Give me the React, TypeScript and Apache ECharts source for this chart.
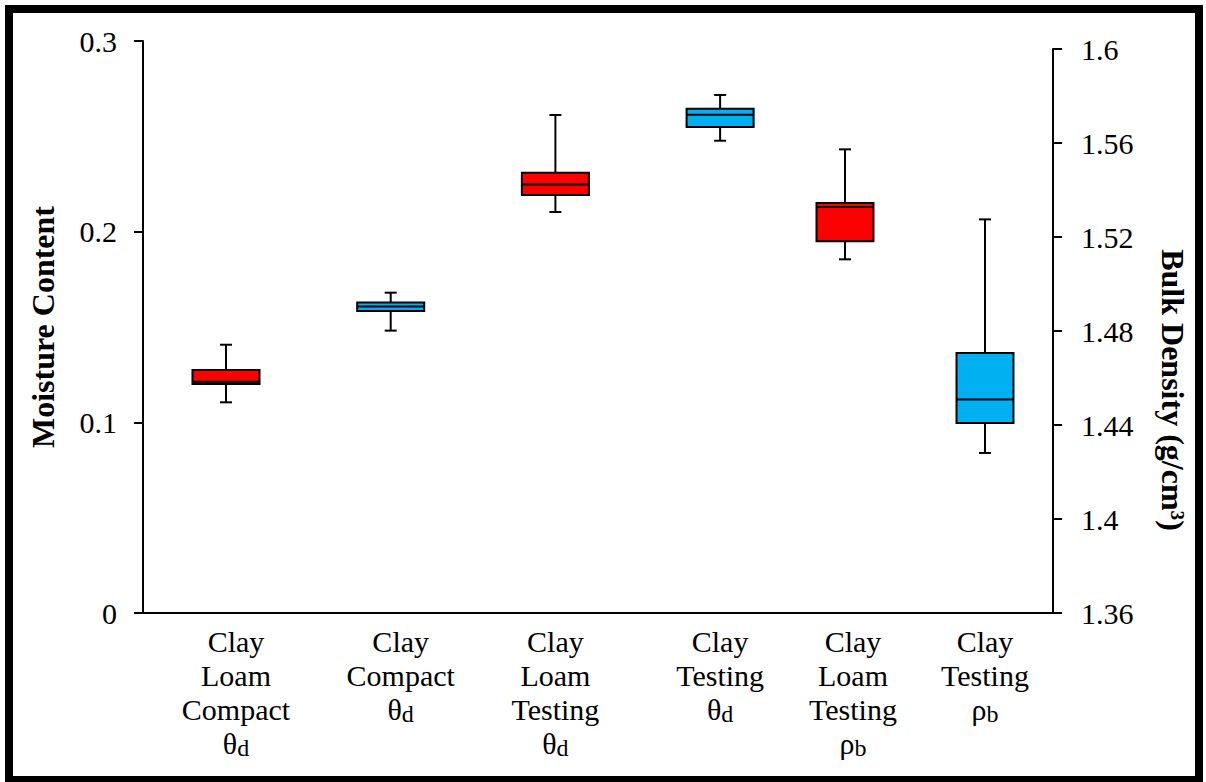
import React, { useEffect, useRef } from "react";
import * as echarts from "echarts";

// Categories ("_" marks a subscript)
const thetaCategories = [
  "Clay Loam Compact θ_d",
  "Clay Compact θ_d",
  "Clay Loam Testing θ_d",
  "Clay Testing θ_d",
];
const rhoCategories = ["Clay Loam Testing ρ_b", "Clay Testing ρ_b"];

// Moisture content (left axis) box statistics
const thetaLow = [0.1105, 0.1481, 0.2103, 0.2477];
const thetaQ1 = [0.1201, 0.1584, 0.2192, 0.2549];
const thetaMedian = [0.1213, 0.1607, 0.2248, 0.2613];
const thetaQ3 = [0.1274, 0.1629, 0.2309, 0.2645];
const thetaHigh = [0.1407, 0.168, 0.2612, 0.2717];

// Bulk density (right axis) box statistics
const rhoLow = [1.5105, 1.4281];
const rhoQ1 = [1.5182, 1.4409];
const rhoMedian = [1.5328, 1.4509];
const rhoQ3 = [1.5345, 1.4706];
const rhoHigh = [1.5573, 1.5275];

const thetaColors = ["#FF0000", "#00B0F0", "#FF0000", "#00B0F0"];
const rhoColors = ["#FF0000", "#00B0F0"];

const leftTicks = { min: 0, max: 0.3, interval: 0.1 };
const rightTicks = { min: 1.36, max: 1.6, interval: 0.04 };

const FONT = "'Liberation Serif', 'Times New Roman', serif";

// small rightward nudges (px) of each category label, as in the original layout
const thetaLabelShift = [10, 10, 0, 0];
const rhoLabelShift = [8, 0];

function makeFormatter() {
  return (v: string, idx: number) =>
    v
      .split(" ")
      .map((w) => {
        if (w.includes("_")) {
          const [a, b] = w.split("_");
          return `{p${idx}|${a}}{s|${b}}`;
        }
        return `{p${idx}|${w}}`;
      })
      .join("\n");
}

function makeRich(shifts: number[]) {
  const rich: any = {
    s: { fontFamily: FONT, fontSize: 24, lineHeight: 14, color: "#000", verticalAlign: "bottom" },
  };
  shifts.forEach((d, i) => {
    rich["p" + i] = {
      fontFamily: FONT, fontSize: 30, lineHeight: 34, color: "#000",
      padding: [0, 0, 0, 2 * d],
    };
  });
  return rich;
}

function makeRenderItem(colors: string[]) {
  return (params: any, api: any) => {
    const i = api.value(0);
    const lo = api.coord([i, api.value(1)]);
    const q1 = api.coord([i, api.value(2)]);
    const med = api.coord([i, api.value(3)]);
    const q3 = api.coord([i, api.value(4)]);
    const hi = api.coord([i, api.value(5)]);
    const band = api.size([1, 0])[0];
    const w = band * 0.407;
    const cap = 12;
    const x = lo[0];
    const ls = { stroke: "#000", lineWidth: 2 };
    return {
      type: "group",
      children: [
        { type: "line", shape: { x1: x, y1: hi[1], x2: x, y2: q3[1] }, style: ls },
        { type: "line", shape: { x1: x, y1: q1[1], x2: x, y2: lo[1] }, style: ls },
        { type: "line", shape: { x1: x - cap / 2, y1: hi[1], x2: x + cap / 2, y2: hi[1] }, style: ls },
        { type: "line", shape: { x1: x - cap / 2, y1: lo[1], x2: x + cap / 2, y2: lo[1] }, style: ls },
        {
          type: "rect",
          shape: { x: x - w / 2, y: q3[1], width: w, height: q1[1] - q3[1] },
          style: { fill: colors[params.dataIndex], stroke: "#000", lineWidth: 2 },
        },
        { type: "line", shape: { x1: x - w / 2, y1: med[1], x2: x + w / 2, y2: med[1] }, style: ls },
      ],
    };
  };
}

export default function App() {
  const ref = useRef<HTMLDivElement>(null);
  useEffect(() => {
    document.body.style.margin = "0";
    if (!ref.current) return;
    const chart = echarts.init(ref.current, undefined, { renderer: "svg" });

    const thetaData = thetaCategories.map((_, i) => [
      i, thetaLow[i], thetaQ1[i], thetaMedian[i], thetaQ3[i], thetaHigh[i],
    ]);
    const rhoData = rhoCategories.map((_, i) => [
      i, rhoLow[i], rhoQ1[i], rhoMedian[i], rhoQ3[i], rhoHigh[i],
    ]);

    const axisLineStyle = { color: "#000", width: 2 };
    const tickLabel = { fontFamily: FONT, fontSize: 30, color: "#000" };

    chart.setOption({
      animation: false,
      backgroundColor: "#fff",
      grid: [
        { left: 143, top: 41, width: 910, height: 572 },
        { left: 143, top: 49, width: 910, height: 564 },
        { left: 143.65, top: 41, width: 658.8, height: 572 },
        { left: 775, top: 49, width: 280, height: 564 },
      ],
      xAxis: [
        {
          gridIndex: 0, type: "value", min: 0, max: 1,
          axisLine: { show: true, onZero: false, lineStyle: axisLineStyle },
          axisTick: { show: false }, axisLabel: { show: false }, splitLine: { show: false },
        },
        { gridIndex: 1, type: "value", min: 0, max: 1, show: false },
        {
          gridIndex: 2, type: "category", data: thetaCategories,
          axisLine: { show: false }, axisTick: { show: false }, splitLine: { show: false },
          axisLabel: {
            interval: 0, margin: 11,
            formatter: makeFormatter(), rich: makeRich(thetaLabelShift),
          },
        },
        {
          gridIndex: 3, type: "category", data: rhoCategories,
          axisLine: { show: false }, axisTick: { show: false }, splitLine: { show: false },
          axisLabel: {
            interval: 0, margin: 11,
            formatter: makeFormatter(), rich: makeRich(rhoLabelShift),
          },
        },
      ],
      yAxis: [
        {
          gridIndex: 0, type: "value", position: "left", ...leftTicks,
          axisLine: { show: true, onZero: false, lineStyle: axisLineStyle },
          axisTick: { show: true, inside: false, length: 9, lineStyle: axisLineStyle },
          axisLabel: { ...tickLabel, margin: 26 },
          splitLine: { show: false },
        },
        {
          gridIndex: 1, type: "value", position: "right", ...rightTicks,
          axisLine: { show: true, onZero: false, lineStyle: axisLineStyle },
          axisTick: { show: true, inside: false, length: 9, lineStyle: axisLineStyle },
          axisLabel: { ...tickLabel, margin: 28 },
          splitLine: { show: false },
        },
        { gridIndex: 2, type: "value", ...leftTicks, show: false, splitLine: { show: false } },
        { gridIndex: 3, type: "value", ...rightTicks, show: false, splitLine: { show: false } },
      ],
      series: [
        {
          type: "custom", name: "Moisture Content",
          xAxisIndex: 2, yAxisIndex: 2,
          encode: { x: 0, y: [1, 2, 3, 4, 5] },
          renderItem: makeRenderItem(thetaColors),
          data: thetaData, clip: false,
        },
        {
          type: "custom", name: "Bulk Density",
          xAxisIndex: 3, yAxisIndex: 3,
          encode: { x: 0, y: [1, 2, 3, 4, 5] },
          renderItem: makeRenderItem(rhoColors),
          data: rhoData, clip: false,
        },
      ],
      graphic: [
        {
          type: "rect",
          shape: { x: 9, y: 9, width: 1190, height: 771 },
          style: { fill: "none", stroke: "#000", lineWidth: 8 },
          silent: true,
        },
        {
          type: "text",
          x: 43, y: 327, rotation: Math.PI / 2,
          style: {
            text: "Moisture Content", fontFamily: FONT, fontSize: 32, fontWeight: "bold",
            fill: "#000", align: "center", verticalAlign: "middle",
          },
        },
        {
          type: "text",
          x: 1173, y: 390, rotation: -Math.PI / 2,
          style: {
            text: "Bulk Density (g/cm³)", fontFamily: FONT, fontSize: 32, fontWeight: "bold",
            fill: "#000", align: "center", verticalAlign: "middle",
          },
        },
      ],
    });
    return () => chart.dispose();
  }, []);
  return <div ref={ref} style={{ width: 1206, height: 782 }} />;
}
